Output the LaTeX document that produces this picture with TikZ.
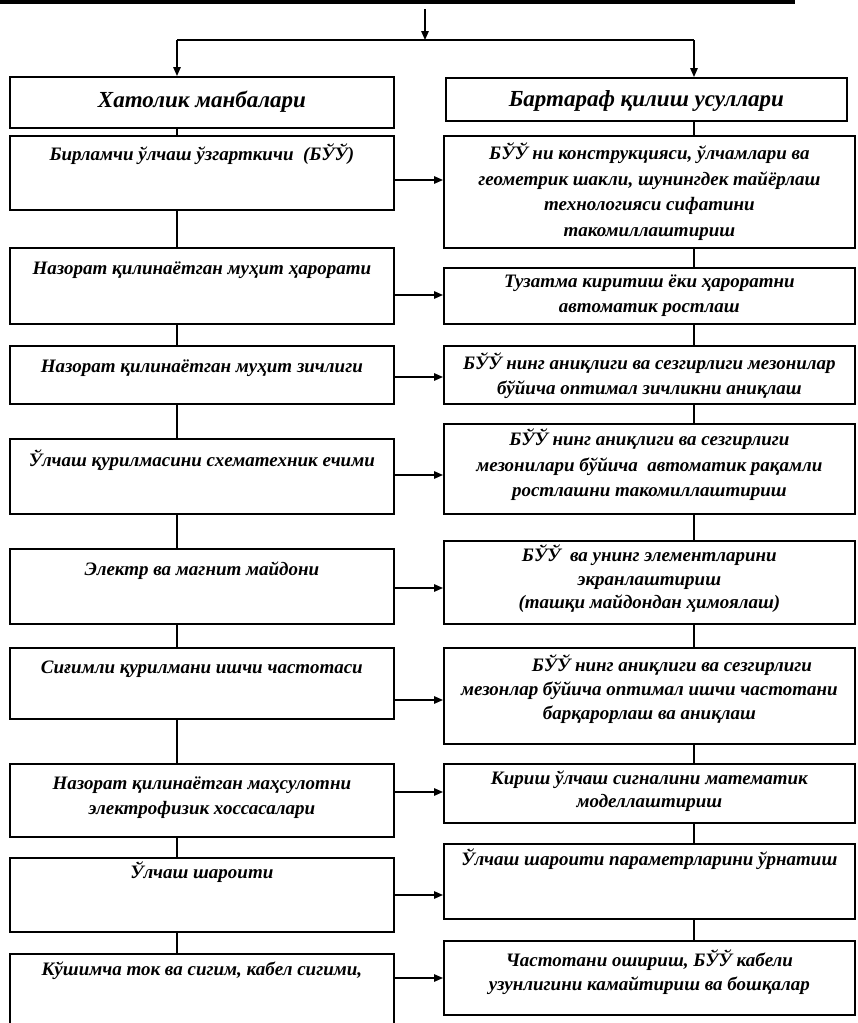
\documentclass[tikz,border=0pt]{standalone}
\usepackage{fontspec}
\setmainfont{Liberation Serif}
\usetikzlibrary{arrows.meta}
\newcommand\bt[5]{\parbox[c][#1pt][t]{#2pt}{\centering\baselineskip=#4pt\rule{0pt}{#3pt}#5}}
\tikzset{
  bx/.style={draw, line width=1.8pt, inner sep=0pt, anchor=north west, font=\fontsize{19}{23}\selectfont\bfseries\itshape},
  hd/.style={bx, font=\fontsize{23}{27}\selectfont\bfseries\itshape},
  ln/.style={line width=1.4pt},
  arr/.style={line width=1.4pt, -{Triangle[length=9pt,width=7.5pt]}},
}
\begin{document}
\begin{tikzpicture}[x=1pt,y=-1pt]
\clip (0,0) rectangle (857,1023);
\fill[white] (0,0) rectangle (857,1023);
% top bar
\draw[line width=4pt] (0,2) -- (795,2);
\coordinate (top) at (425,9);
\coordinate (cl) at (177,0);
\coordinate (cr) at (694,0);
\coordinate (br) at (425,40);
% left column
\node[hd] (l1) at (9,76)  {\bt{51}{384}{31}{25}{Хатолик манбалари}};
\node[bx] (l2) at (9,135) {\bt{74}{384}{25}{25}{Бирламчи ўлчаш ўзгарткичи\ \ (БЎЎ)}};
\node[bx] (l3) at (9,247) {\bt{76}{384}{27}{25}{Назорат қилинаётган муҳит ҳарорати}};
\node[bx] (l4) at (9,345) {\bt{58}{384}{27}{25}{Назорат қилинаётган муҳит зичлиги}};
\node[bx] (l5) at (9,438) {\bt{75}{384}{28}{25}{Ўлчаш қурилмасини схематехник ечими}};
\node[bx] (l6) at (9,548) {\bt{75}{384}{27}{25}{Электр ва магнит майдони}};
\node[bx] (l7) at (9,647) {\bt{71}{384}{26}{25}{Сиғимли қурилмани ишчи частотаси}};
\node[bx] (l8) at (9,763) {\bt{73}{384}{26}{25}{Назорат қилинаётган маҳсулотни\\электрофизик хоссасалари}};
\node[bx] (l9) at (9,857) {\bt{74}{384}{21}{25}{Ўлчаш шароити}};
\node[bx] (l10) at (9,953) {\bt{80}{384}{22}{25}{Кўшимча ток ва сигим, кабел сигими,}};
% right column
\node[hd] (r1) at (445,77)  {\bt{43}{401}{29}{25}{Бартараф қилиш усуллари}};
\node[bx] (r2) at (443,135) {\bt{112}{411}{24}{25.5}{БЎЎ ни конструкцияси, ўлчамлари ва\\геометрик шакли, шунингдек тайёрлаш\\технологияси сифатини\\такомиллаштириш}};
\node[bx] (r3) at (443,267) {\bt{56}{411}{20}{25}{Тузатма киритиш ёки ҳароратни\\автоматик ростлаш}};
\node[bx] (r4) at (443,345) {\bt{58}{411}{24}{25}{БЎЎ нинг аниқлиги ва сезгирлиги мезонилар\\бўйича оптимал зичликни аниқлаш}};
\node[bx] (r5) at (443,423) {\bt{90}{411}{22}{25.5}{БЎЎ нинг аниқлиги ва сезгирлиги\\мезонилари бўйича\ \ автоматик рақамли\\ростлашни такомиллаштириш}};
\node[bx] (r6) at (443,540) {\bt{83}{411}{21}{23.5}{БЎЎ\ \ ва унинг элементларини\\экранлаштириш\\(ташқи майдондан ҳимоялаш)}};
\node[bx] (r7) at (443,647) {\bt{96}{411}{24}{24}{\hspace*{45pt}БЎЎ нинг аниқлиги ва сезгирлиги\\мезонлар бўйича оптимал ишчи частотани\\барқарорлаш ва аниқлаш}};
\node[bx] (r8) at (443,763) {\bt{59}{411}{21}{23}{Кириш ўлчаш сигналини математик\\моделлаштириш}};
\node[bx] (r9) at (443,843) {\bt{75}{411}{22}{25}{Ўлчаш шароити параметрларини ўрнатиш}};
\node[bx] (r10) at (443,940) {\bt{74}{411}{26}{24}{Частотани ошириш, БЎЎ кабели\\узунлигини камайтириш ва бошқалар}};
% top distribution
\draw[arr] (top) -- (br);
\draw[ln] (br) -- (br -| cl) (br) -- (br -| cr);
\draw[arr] (br -| cl) -- (l1.north -| cl);
\draw[arr] (br -| cr) -- (r1.north -| cr);
% vertical chains
\foreach \a/\b in {l1/l2,l2/l3,l3/l4,l4/l5,l5/l6,l6/l7,l7/l8,l8/l9,l9/l10}
  \draw[ln] (\a.south -| cl) -- (\b.north -| cl);
\foreach \a/\b in {r1/r2,r2/r3,r3/r4,r4/r5,r5/r6,r6/r7,r7/r8,r8/r9,r9/r10}
  \draw[ln] (\a.south -| cr) -- (\b.north -| cr);
% horizontal arrows
\foreach \n/\y in {2/180,3/295,4/377,5/475,6/588,7/700,8/792,9/895,10/978}{
  \coordinate (h\n) at (l\n.east |- 0,\y);
  \draw[arr] (h\n) -- (h\n -| r\n.west);
}
\end{tikzpicture}
\end{document}
